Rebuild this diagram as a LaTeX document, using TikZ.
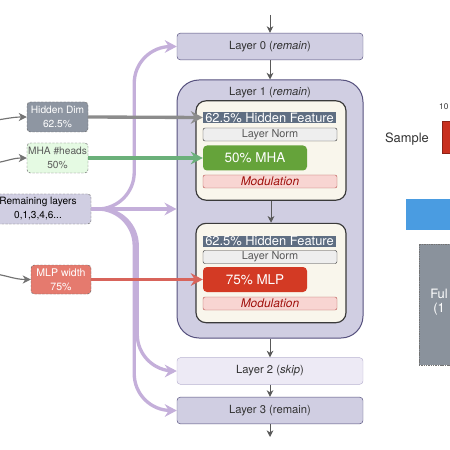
\documentclass[tikz,border=0pt]{standalone}
\usepackage{fontspec}
\setmainfont{TeX Gyre Heros}
\usetikzlibrary{arrows.meta}

\definecolor{laybg}{HTML}{D0CEE2}
\definecolor{laydraw}{HTML}{56517E}
\definecolor{skipbg}{HTML}{EDEAF5}
\definecolor{skipdraw}{HTML}{B8B2D0}
\definecolor{blockbg}{HTML}{F9F6EC}
\definecolor{blockdraw}{HTML}{3A3A3A}
\definecolor{featbg}{HTML}{5F6E82}
\definecolor{normbg}{HTML}{EEEEEE}
\definecolor{mhabg}{HTML}{65A33A}
\definecolor{mlpbg}{HTML}{D33A24}
\definecolor{modbg}{HTML}{F8D5D2}
\definecolor{moddraw}{HTML}{B85450}
\definecolor{modtext}{HTML}{A0100C}
\definecolor{dimbg}{HTML}{8E96A2}
\definecolor{headbg}{HTML}{E5FAE3}
\definecolor{mlpwbg}{HTML}{E57A6E}
\definecolor{textgray}{HTML}{333333}
\definecolor{arrgray}{HTML}{8C8C8C}
\definecolor{arrgreen}{HTML}{6BB07A}
\definecolor{arrred}{HTML}{D8645B}
\definecolor{arrpurp}{HTML}{C4AFDA}
\definecolor{samplered}{HTML}{C8301F}
\definecolor{barblue}{HTML}{4A9CE1}
\definecolor{fullbg}{HTML}{8A929C}

\begin{document}
\begin{tikzpicture}[x=0.3mm, y=-0.3mm,
    layer/.style={draw=laydraw, fill=laybg, rounded corners=1mm, minimum width=55.8mm, minimum height=8mm, text=textgray, font=\fontsize{9.6}{11}\selectfont},
    skiplayer/.style={layer, draw=skipdraw, fill=skipbg},
    block/.style={draw=blockdraw, fill=blockbg, rounded corners=3mm, line width=0.35mm, minimum width=45mm, minimum height=29.8mm},
    feat/.style={fill=featbg, text=white, inner sep=0pt, minimum width=39.9mm, minimum height=3.3mm, font=\fontsize{11}{12}\selectfont},
    lnorm/.style={draw=blockdraw, fill=normbg, rounded corners=0.6mm, inner sep=0pt, minimum width=40.2mm, minimum height=3.9mm, text=black!65, font=\fontsize{9.3}{10}\selectfont},
    opbox/.style={rounded corners=1.2mm, inner sep=0pt, minimum width=31.2mm, minimum height=7.5mm, text=white, font=\fontsize{11.5}{12}\selectfont},
    modul/.style={draw=moddraw, fill=modbg, rounded corners=0.6mm, inner sep=0pt, minimum width=40.2mm, minimum height=3.9mm, text=modtext, font=\fontsize{10.2}{11}\itshape},
    knob/.style={draw=black!60, dash pattern=on 2pt off 1.2pt, rounded corners=1mm, inner sep=0pt, align=center, minimum width=18.3mm, minimum height=9mm, font=\fontsize{8.7}{11.5}\selectfont},
    layarr/.style={draw=black!65, line width=0.3mm, -{Stealth[length=2mm, width=2mm, inset=0.6mm]}},
    inarr/.style={draw=black!55, line width=0.35mm, -{Stealth[length=2.4mm, width=2.4mm, inset=0.7mm]}},
    fatarr/.style={line width=1mm, -{Stealth[length=3.6mm, width=3.8mm, inset=1.2mm]}},
  ]
  \useasboundingbox (0,0) rectangle (450,450);
  \clip (0,0) rectangle (450,450);

  % layer stack
  \node [layer] (layer0) at (270,46.5) {Layer 0 (\textit{remain})};
  \node [draw=laydraw, fill=laybg, rounded corners=6.6mm, line width=0.3mm, minimum width=55.8mm, minimum height=77.4mm] (layer1) at (270,209) {};
  \node [text=textgray, font=\fontsize{9.6}{11}\selectfont] (l1title) at (270,93) {Layer 1 (\textit{remain})};
  \node [skiplayer] (layer2) at (270,371) {Layer 2 (\textit{skip})};
  \node [layer] (layer3) at (270,410.5) {Layer 3 (remain)};

  % attention block
  \node [block] (blockA) at (271,150.5) {};
  \node [feat] (featA) at (269.5,117.5) {62.5\% Hidden Feature};
  \node [lnorm] (normA) at (270,134.5) {Layer Norm};
  \node [opbox, fill=mhabg] (mha) at (255,158) {50\% MHA};
  \node [modul] (modA) at (270,181.5) {Modulation};

  % mlp block
  \node [block] (blockB) at (271,273) {};
  \node [feat] (featB) at (269.5,241) {62.5\% Hidden Feature};
  \node [lnorm] (normB) at (270,257) {Layer Norm};
  \node [opbox, fill=mlpbg] (mlp) at (255,279.5) {75\% MLP};
  \node [modul] (modB) at (270,303.5) {Modulation};

  \coordinate (top) at (270,15);
  \coordinate (bot) at (270,437);
  \draw [layarr] (top) -- (layer0.north);
  \draw [layarr] (layer0.south) -- (layer1.north);
  \draw [layarr] (blockA.south) -- (blockB.north);
  \draw [layarr] (layer1.south) -- (layer2.north);
  \draw [layarr] (layer2.south) -- (layer3.north);
  \draw [layarr] (layer3.south) -- (bot);

  % width choices on the left
  \node [knob, fill=dimbg, text=white] (hidden) at (57.5,117) {Hidden Dim\\62.5\%};
  \node [knob, fill=headbg, text=black!65] (heads) at (57.5,158) {MHA \#heads\\50\%};
  \node [knob, fill=laybg, text=black, minimum width=31.8mm, font=\fontsize{8.6}{12}\selectfont] (remain) at (38,209) {Remaining layers\\0,1,3,4,6...};
  \node [knob, fill=mlpwbg, text=white, minimum width=18mm, minimum height=8.7mm, font=\fontsize{9}{12}\selectfont] (mlpw) at (61,279.5) {MLP width\\75\%};

  \coordinate (srcH) at (-12,121);
  \coordinate (srcM) at (-12,164);
  \coordinate (srcW) at (-12,273);
  \draw [inarr] (srcH) to[out=5, in=180] (hidden.west);
  \draw [inarr] (srcM) to[out=5, in=180] (heads.west);
  \draw [inarr] (srcW) to[out=-5, in=180] (mlpw.west);

  % which layers remain
  \draw [fatarr, draw=arrpurp, rounded corners=11mm] (remain.east) -- ++(43,0) |- (layer0.west);
  \draw [fatarr, draw=arrpurp] (remain.east) -- (layer1.west);
  \draw [fatarr, draw=arrpurp, rounded corners=11mm] (remain.east) -- ++(46,0) |- (layer2.west);
  \draw [fatarr, draw=arrpurp, rounded corners=11mm] (remain.east) -- ++(43,0) |- (layer3.west);

  \draw [fatarr, draw=arrgray] (hidden.east) -- (featA.west);
  \draw [fatarr, draw=arrgreen] (heads.east) -- (mha.west);
  \draw [fatarr, draw=arrred] (mlpw.east) -- (mlp.west);

  % right part, cut by the frame
  \node [text=textgray, font=\fontsize{11}{13}\selectfont] (sample) at (407,139) {Sample};
  \node [anchor=west, inner sep=0pt, text=textgray, font=\fontsize{7}{8}\selectfont] (pct) at (439,107) {10};
  \node [fill=samplered, draw=samplered!70!black, minimum width=8.4mm, minimum height=9.6mm] (redbar) at (456,137) {};
  \node [fill=barblue, minimum width=34.2mm, minimum height=9.3mm] (bluebar) at (463,214.5) {};
  \node [fill=fullbg, draw=black!55, dash pattern=on 1.2pt off 0.8pt, minimum width=30.3mm, minimum height=36.3mm] (fullbox) at (469.5,304.5) {};
  \node [text=white, align=center, font=\fontsize{11}{12.5}\selectfont] (fulltxt) at (439,302) {Ful\\(1};
\end{tikzpicture}
\end{document}
